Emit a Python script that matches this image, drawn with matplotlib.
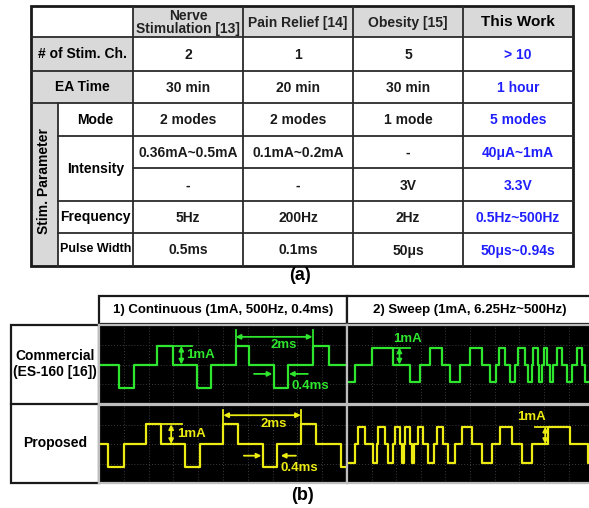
import matplotlib.pyplot as plt
import numpy as np

plt.rcParams['font.family'] = ['Liberation Sans', 'DejaVu Sans']
plt.rcParams['font.weight'] = 'bold'

# ---------------- (a) comparison table ----------------
col_heads = ["Nerve\nStimulation [13]", "Pain Relief [14]", "Obesity [15]", "This Work"]
row_heads = ["# of Stim. Ch.", "EA Time"]
param_heads = ["Mode", "Intensity", "Frequency", "Pulse Width"]
nerve = ["2", "30 min", "2 modes", "0.36mA~0.5mA", "-", "5Hz", "0.5ms"]
pain = ["1", "20 min", "2 modes", "0.1mA~0.2mA", "-", "200Hz", "0.1ms"]
obesity = ["5", "30 min", "1 mode", "-", "3V", "2Hz", "50\u03bcs"]
this_work = ["> 10", "1 hour", "5 modes", "40\u03bcA~1mA", "3.3V", "0.5Hz~500Hz", "50\u03bcs~0.94s"]

# ---------------- (b) scope traces (x in divisions, y in mA) ----------------
# 1) continuous, commercial
cc_t = [0, 0.81, 1.42, 2.34, 2.97, 3.96, 4.53, 5.51, 6.05, 7.06, 7.62, 8.61, 9.27, 10]
cc_v = [0, -1.25, 0, 0.99, 0, -1.25, 0, 0.99, 0, -1.25, 0, 0.99, 0, 0]
# 1) continuous, proposed
pc_t = [0, 0.38, 1.01, 1.89, 2.51, 3.48, 4.09, 5.01, 5.61, 6.61, 7.19, 8.14, 8.74, 9.76, 10]
pc_v = [0, -1.25, 0, 1.06, 0, -1.25, 0, 1.06, 0, -1.25, 0, 1.06, 0, -1.25, -1.25]
# 2) sweep, commercial (slow -> fast)
cs_t = [0, 0.33, 1.0, 1.88, 2.56, 2.97, 3.37, 3.85, 4.19, 4.59, 5.0, 5.48, 5.81, 6.06, 6.19,
        6.42, 6.63, 6.83, 6.96, 7.24, 7.37, 7.51, 7.57, 7.74, 7.8, 7.91, 8.01, 8.14, 8.25,
        8.37, 8.52, 8.73, 8.93, 9.13, 9.34, 9.54, 9.67, 9.95]
cs_v = [-0.95, 0, 0.9, 0, -0.95, 0, 0.9, 0, -0.95, 0, 0.9, 0, -0.95, 0, 0.9,
        0, -0.95, 0, 0.9, 0, -0.95, 0, 0.9, 0, -0.95, 0, 0.9, 0, -0.95,
        0, 0.9, 0, -0.95, 0, 0.9, 0, -0.95, -0.95]
# 2) sweep, proposed (fast -> slow)
ps_t = [0, 0.33, 0.46, 0.73, 1.06, 1.21, 1.27, 1.54, 1.68, 1.87, 1.95, 2.15, 2.22, 2.32, 2.36,
        2.56, 2.63, 2.72, 2.9, 3.1, 3.3, 3.54, 3.66, 3.9, 4.12, 4.39, 4.66, 5.07, 5.48,
        5.88, 6.22, 6.69, 7.1, 7.51, 8.18, 9.07, 9.8, 9.95]
ps_v = [-1.0, 0, 0.93, 0, -1.0, 0, 0.93, 0, -1.0, 0, 0.93, 0, -1.0, 0, 0.93,
        0, -1.0, 0, 0.93, 0, -1.0, 0, 0.93, 0, -1.0, 0, 0.93, 0, -1.0,
        0, 0.93, 0, -1.0, 0, 0.93, 0, -1.0, -1.0]

GREEN = '#2ee62e'
YELLOW = '#ecec12'
GREY = '#d9d9d9'
BLUE = '#1f1fff'

W, H = 589, 508
fig = plt.figure(figsize=(W / 100, H / 100), dpi=100)
bg = fig.add_axes([0, 0, 1, 1])
bg.set_xlim(0, W)
bg.set_ylim(H, 0)
bg.axis('off')

# table grid (pixel layout)
xs = [31, 58, 133, 243, 353, 463, 573]
ys = [6, 37, 71, 103, 136, 168, 201, 233, 266]
lc = '#2b2b2b'

bg.add_patch(plt.Rectangle((xs[2], ys[0]), xs[6] - xs[2], ys[1] - ys[0], fc=GREY, ec='none'))
bg.add_patch(plt.Rectangle((xs[0], ys[1]), xs[2] - xs[0], ys[3] - ys[1], fc=GREY, ec='none'))
bg.add_patch(plt.Rectangle((xs[0], ys[3]), xs[1] - xs[0], ys[8] - ys[3], fc=GREY, ec='none'))

for y in ys[1:4]:
    bg.plot([xs[0], xs[6]], [y, y], color=lc, lw=1.3)
for y in [ys[4], ys[6], ys[7]]:
    bg.plot([xs[1], xs[6]], [y, y], color=lc, lw=1.3)
bg.plot([xs[2], xs[6]], [ys[5], ys[5]], color=lc, lw=1.3)
bg.plot([xs[1], xs[1]], [ys[3], ys[8]], color=lc, lw=1.3)
for x in xs[2:6]:
    bg.plot([x, x], [ys[0], ys[8]], color=lc, lw=1.3)
bg.add_patch(plt.Rectangle((xs[0], ys[0]), xs[6] - xs[0], ys[8] - ys[0], fc='none', ec='#1a1a1a', lw=2))

fs = 10
for j, head in enumerate(col_heads):
    cx = (xs[j + 2] + xs[j + 3]) / 2
    bg.text(cx, (ys[0] + ys[1]) / 2 + 1, head, ha='center', va='center', fontsize=fs if j < 3 else 11,
            linespacing=0.95, color='#222222' if j < 3 else 'black')
for i, head in enumerate(row_heads):
    bg.text((xs[0] + xs[2]) / 2, (ys[i + 1] + ys[i + 2]) / 2, head, ha='center', va='center', fontsize=fs)
bg.text((xs[0] + xs[1]) / 2, 181, "Stim. Parameter", rotation=90, ha='center', va='center', fontsize=fs)
param_y = [(ys[3] + ys[4]) / 2, (ys[4] + ys[6]) / 2, (ys[6] + ys[7]) / 2, (ys[7] + ys[8]) / 2]
param_fs = [fs, fs, fs, 9]
for name, y, f in zip(param_heads, param_y, param_fs):
    bg.text((xs[1] + xs[2]) / 2, y, name, ha='center', va='center', fontsize=f)

cell_y = [(ys[k] + ys[k + 1]) / 2 for k in range(1, 8)]
for j, col in enumerate([nerve, pain, obesity, this_work]):
    cx = (xs[j + 2] + xs[j + 3]) / 2
    for val, y in zip(col, cell_y):
        bg.text(cx, y + 1, val, ha='center', va='center', fontsize=fs,
                color=BLUE if j == 3 else '#1a1a1a')

bg.text(300, 276, "(a)", ha='center', va='center', fontsize=13)

# ---------------- (b) layout ----------------
bg.add_patch(plt.Rectangle((99, 296), 248, 28, fc='white', ec='#1a1a1a', lw=1.6))
bg.add_patch(plt.Rectangle((347, 296), 250, 28, fc='white', ec='#1a1a1a', lw=1.6))
bg.text(223, 310, "1) Continuous (1mA, 500Hz, 0.4ms)", ha='center', va='center', fontsize=9.5)
bg.text(470, 310, "2) Sweep (1mA, 6.25Hz~500Hz)", ha='center', va='center', fontsize=9.5)

bg.add_patch(plt.Rectangle((11, 325), 88, 158, fc='white', ec='#1a1a1a', lw=1.6))
bg.plot([11, 99], [404, 404], color='#1a1a1a', lw=1.6)
bg.text(55, 356, "Commercial", ha='center', va='center', fontsize=10)
bg.text(55, 372, "(ES-160 [16])", ha='center', va='center', fontsize=10)
bg.text(55, 443, "Proposed", ha='center', va='center', fontsize=10)
bg.text(302, 496, "(b)", ha='center', va='center', fontsize=13)


def scope(x0, y0, w, h, t, v, color, xmax):
    ax = fig.add_axes([x0 / W, 1 - (y0 + h) / H, w / W, h / H])
    ax.set_facecolor('black')
    ax.set_xlim(0, xmax)
    ax.set_ylim(-2.1, 2.1)
    ax.set_xticks(np.arange(1, xmax, 1))
    ax.set_yticks([-1.05, 0, 1.05])
    ax.grid(True, color='#3c3c3c', lw=0.7, ls=(0, (1, 2)))
    ax.tick_params(length=0, labelbottom=False, labelleft=False)
    for s in ax.spines.values():
        s.set_color('#bdbdbd')
        s.set_linewidth(1.6)
    ax.step(t, v, where='post', color=color, lw=1.6)
    return ax


a_cc = scope(99, 325, 248, 79, cc_t, cc_v, GREEN, 10)
a_pc = scope(99, 405, 248, 78, pc_t, pc_v, YELLOW, 10)
a_cs = scope(347, 325, 245, 79, cs_t, cs_v, GREEN, 9.95)
a_ps = scope(347, 405, 245, 78, ps_t, ps_v, YELLOW, 9.95)

arr2 = dict(arrowstyle='<|-|>', color=None, lw=1.3, shrinkA=0, shrinkB=0, mutation_scale=7)
arr1 = dict(arrowstyle='-|>', color=None, lw=1.3, shrinkA=0, shrinkB=0, mutation_scale=7)


def mark_1ma(ax, c, x, xl, xr, top, tx, ty, ha):
    ax.plot([xl, xr], [top, top], color=c, lw=1.3)
    ax.annotate('', xy=(x, top), xytext=(x, 0), arrowprops={**arr2, 'color': c})
    ax.text(tx, ty, "1mA", color=c, fontsize=9.5, ha=ha, va='center')


def mark_times(ax, c, e1, e2, ya, ytop, yhi, tx2, ty2, l0, l1, r0, r1, yb, tx4, ty4):
    ax.plot([e1, e1], [yhi, ytop], color=c, lw=1.3)
    ax.plot([e2, e2], [yhi, ytop], color=c, lw=1.3)
    ax.annotate('', xy=(e1, ya), xytext=(e2, ya), arrowprops={**arr2, 'color': c})
    ax.text(tx2, ty2, "2ms", color=c, fontsize=9.5, ha='center', va='center')
    ax.annotate('', xy=(l1, yb), xytext=(l0, yb), arrowprops={**arr1, 'color': c})
    ax.annotate('', xy=(r1, yb), xytext=(r0, yb), arrowprops={**arr1, 'color': c})
    ax.text(tx4, ty4, "0.4ms", color=c, fontsize=9.5, ha='left', va='center')


mark_1ma(a_cc, GREEN, 3.32, 2.97, 3.75, 0.99, 3.51, 0.48, 'left')
mark_times(a_cc, GREEN, 5.51, 8.61, 1.47, 1.83, 0.99, 7.46, 1.02, 6.25, 6.99, 8.42, 7.66, -0.5, 7.77, -1.13)
mark_1ma(a_pc, YELLOW, 2.91, 2.51, 3.35, 1.06, 3.15, 0.56, 'left')
mark_times(a_pc, YELLOW, 5.01, 8.14, 1.55, 1.83, 1.06, 7.06, 1.10, 5.84, 6.55, 7.94, 7.33, -0.63, 7.30, -1.30)
mark_1ma(a_cs, GREEN, 2.13, 1.88, 2.56, 0.9, 2.44, 1.33, 'center')
mark_1ma(a_ps, YELLOW, 8.05, 7.64, 8.17, 0.93, 7.48, 1.46, 'center')

fig.savefig('out.png', dpi=100)
